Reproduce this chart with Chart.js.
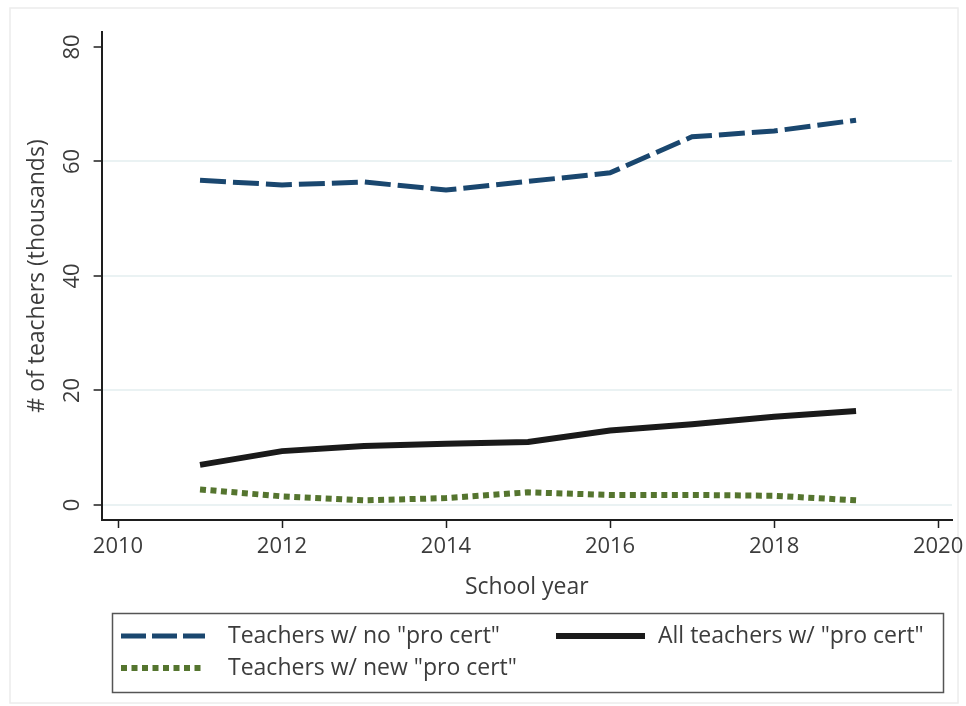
<!DOCTYPE html>
<html lang="en">
<head>
<meta charset="UTF-8">
<title>Teachers and pro cert</title>
<script src="https://cdn.jsdelivr.net/npm/chart.js"></script>
<style>
  html, body { margin: 0; padding: 0; background: #fff; }
  #wrap { width: 966px; height: 706px; position: relative; }
</style>
</head>
<body>
<div id="wrap"><canvas id="chart"></canvas></div>
<script>
// ---- data (thousands of teachers) ----
const years      = [2011, 2012, 2013, 2014, 2015, 2016, 2017, 2018, 2019];
const noProCert  = [56.7, 55.9, 56.4, 55.0, 56.5, 58.0, 64.3, 65.3, 67.2];
const allProCert = [7.0, 9.4, 10.3, 10.7, 11.0, 13.0, 14.1, 15.4, 16.4];
const newProCert = [2.7, 1.5, 0.8, 1.2, 2.2, 1.75, 1.75, 1.6, 0.8];

const seriesNames = ['Teachers w/ no "pro cert"', 'All teachers w/ "pro cert"', 'Teachers w/ new "pro cert"'];
const xTicks = [2010, 2012, 2014, 2016, 2018, 2020];
const yTicks = [0, 20, 40, 60, 80];

const FONT = "'Open Sans', 'Noto Sans', sans-serif";
const TEXT = '#3c3c3c';
const AXIS = '#1e1e1e';

const pairs = vals => years.map((y, i) => ({x: y, y: vals[i]}));

// frame round the graph region
const framePlugin = {
  id: 'frame',
  beforeDraw(chart) {
    const ctx = chart.ctx;
    ctx.save();
    ctx.fillStyle = '#fff';
    ctx.fillRect(0, 0, chart.width, chart.height);
    ctx.strokeStyle = '#ececec';
    ctx.lineWidth = 1.5;
    ctx.strokeRect(10, 8, 948, 695);
    ctx.restore();
  }
};

// y tick labels are turned on their side, like the original
const yLabelPlugin = {
  id: 'yLabels',
  afterDraw(chart) {
    const ctx = chart.ctx, s = chart.scales.y;
    ctx.save();
    ctx.fillStyle = TEXT;
    ctx.font = '22px ' + FONT;
    ctx.textAlign = 'center';
    ctx.textBaseline = 'middle';
    yTicks.forEach(v => {
      ctx.save();
      ctx.translate(s.right - 29, s.getPixelForValue(v));
      ctx.rotate(-Math.PI / 2);
      ctx.fillText(String(v), 0, 0);
      ctx.restore();
    });
    ctx.restore();
  }
};

// boxed legend under the axis title
const legendPlugin = {
  id: 'boxLegend',
  afterDraw(chart) {
    const ctx = chart.ctx;
    const ds = chart.data.datasets;
    ctx.save();
    ctx.strokeStyle = '#555';
    ctx.lineWidth = 1.5;
    ctx.strokeRect(112.5, 613.5, 831, 79);

    const items = [
      {d: ds[0], x0: 121, x1: 205, y: 636, tx: 228, dash: [25, 6]},
      {d: ds[1], x0: 556, x1: 645, y: 636, tx: 658, dash: []},
      {d: ds[2], x0: 121, x1: 205, y: 668, tx: 228, dash: [6, 4.5]}
    ];
    items.forEach(it => {
      ctx.beginPath();
      ctx.strokeStyle = it.d.borderColor;
      ctx.lineWidth = it.d.borderWidth;
      ctx.setLineDash(it.dash);
      ctx.moveTo(it.x0, it.y);
      ctx.lineTo(it.x1, it.y);
      ctx.stroke();
      ctx.setLineDash([]);
      ctx.fillStyle = TEXT;
      ctx.font = '23px ' + FONT;
      ctx.textBaseline = 'middle';
      ctx.textAlign = 'left';
      ctx.fillText(it.d.label, it.tx, it.y);
    });
    ctx.restore();
  }
};

new Chart(document.getElementById('chart'), {
  type: 'line',
  data: {
    datasets: [
      {label: seriesNames[0], data: pairs(noProCert), borderColor: '#1a476f', borderWidth: 5, borderDash: [26, 7]},
      {label: seriesNames[1], data: pairs(allProCert), borderColor: '#1a1a1a', borderWidth: 6},
      {label: seriesNames[2], data: pairs(newProCert), borderColor: '#55752f', borderWidth: 6, borderDash: [6, 4.5]}
    ]
  },
  options: {
    responsive: true,
    maintainAspectRatio: false,
    animation: false,
    layout: {padding: {left: 10, top: 32, right: 14, bottom: 105}},
    elements: {point: {radius: 0}, line: {tension: 0, borderCapStyle: 'butt', fill: false}},
    plugins: {legend: {display: false}, tooltip: {enabled: false}},
    scales: {
      x: {
        type: 'linear',
        min: 2009.8,
        max: 2020.17,
        afterBuildTicks: s => { s.ticks = xTicks.map(v => ({value: v})); },
        // let the last label run past the axis end, as in the original
        afterFit: s => { s.paddingRight = 0; s.paddingLeft = 0; },
        ticks: {autoSkip: false, maxRotation: 0, padding: 6, color: TEXT, font: {family: FONT, size: 22},
                callback: v => String(v)},
        grid: {drawOnChartArea: false, drawTicks: true, tickLength: 8, tickColor: AXIS, tickWidth: 1.5},
        border: {display: true, color: AXIS, width: 2},
        title: {display: true, text: 'School year', color: TEXT, font: {family: FONT, size: 23},
                padding: {top: 7, bottom: 0}}
      },
      y: {
        type: 'linear',
        min: -2.63,
        max: 82.6,
        afterBuildTicks: s => { s.ticks = yTicks.map(v => ({value: v})); },
        ticks: {display: false},
        grid: {
          color: c => (c.tick && c.tick.value === 80) ? 'rgba(0,0,0,0)' : '#eaf2f3',
          lineWidth: 2,
          drawTicks: true, tickLength: 8, tickColor: AXIS, tickWidth: 1.5
        },
        border: {display: true, color: AXIS, width: 2},
        title: {display: true, text: '# of teachers (thousands)', color: TEXT, font: {family: FONT, size: 23},
                padding: {top: 14, bottom: 42}}
      }
    }
  },
  plugins: [framePlugin, yLabelPlugin, legendPlugin]
});
</script>
</body>
</html>
